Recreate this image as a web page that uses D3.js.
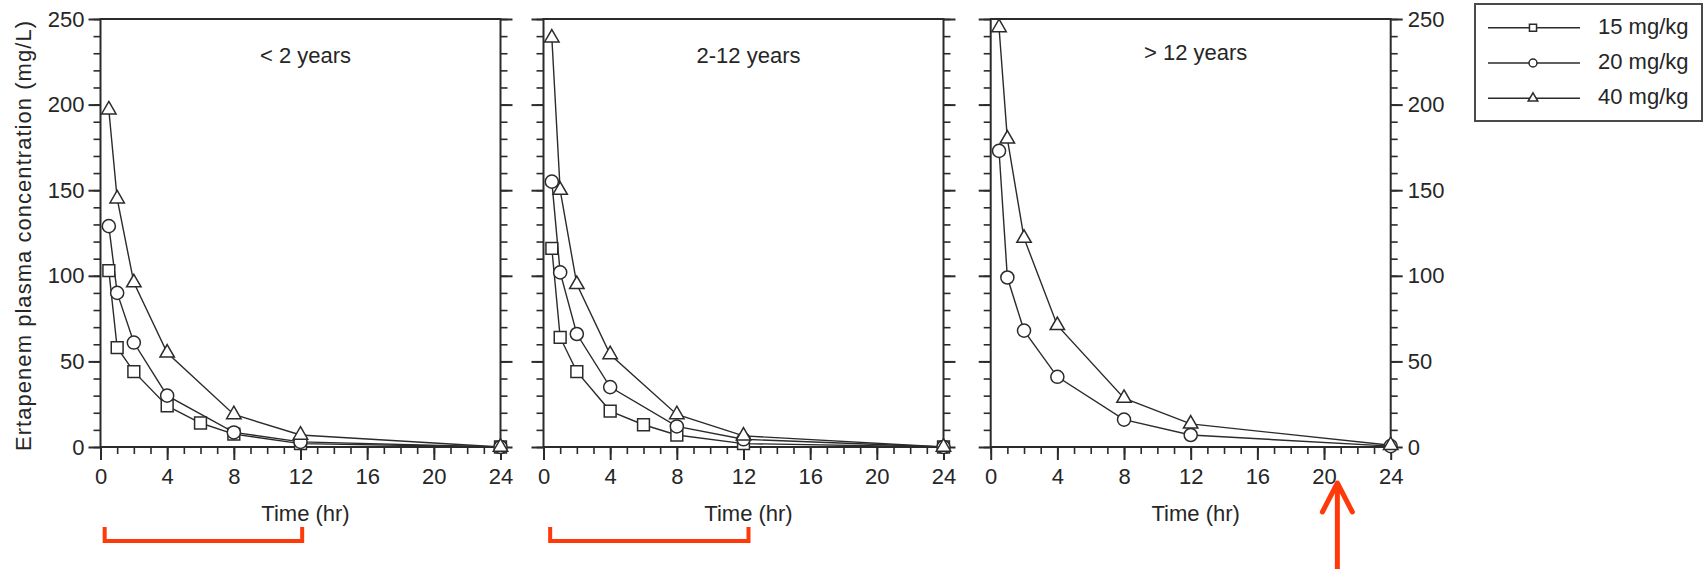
<!DOCTYPE html>
<html>
<head>
<meta charset="utf-8">
<script src="https://cdnjs.cloudflare.com/ajax/libs/d3/7.8.5/d3.min.js"></script>
<style>
    body { margin: 0; background: #fff; }
    text { font-family: "Liberation Sans", Arial, sans-serif; fill: #262626; }
</style>
</head>
<body>
<div id="chart"></div>
<script>
// Chart data
var panelTitles = ["< 2 years", "2-12 years", "> 12 years"];
var doseLabels = ["15 mg/kg", "20 mg/kg", "40 mg/kg"];
var xTicks = [0, 4, 8, 12, 16, 20, 24];
var yTicks = [0, 50, 100, 150, 200, 250];

var timesSquare = [0.5, 1, 2, 4, 6, 8, 12, 24];
var times = [0.5, 1, 2, 4, 8, 12, 24];

// < 2 years
var under2Dose15 = [103, 58, 44, 24, 14, 7.5, 2, 0];
var under2Dose20 = [129, 90, 61, 30, 8.5, 3, 0];
var under2Dose40 = [197, 145, 96, 55, 19, 7, 0];

// 2-12 years
var midDose15 = [116, 64, 44, 21, 13, 7, 2, 0];
var midDose20 = [155, 102, 66, 35, 12, 4.5, 0];
var midDose40 = [239, 150, 95, 54, 19, 6.5, 0];

// > 12 years (no 15 mg/kg group)
var over12Dose20 = [173, 99, 68, 41, 16, 7, 0.5];
var over12Dose40 = [245, 180, 122, 71, 28.5, 13.5, 1];

// red annotations, in hours
var bracketRanges = [[0.25, 12.1], [0.4, 12.3]];
var arrowTime = 20.8;

function makeChart() {

    var svgWidth = 1704;
    var svgHeight = 569;

    var plotTop = 19;
    var plotBottom = 447;
    var panelLeft = [100.5, 543.5, 990.7];
    var panelWidth = 400;
    var ink = "#2b2b2b";

    var svg = d3.select("#chart")
        .append("svg")
        .attr("width", svgWidth)
        .attr("height", svgHeight);

    // panel series built from the arrays above
    var panels = [
        [
            { dose: 0, t: timesSquare, v: under2Dose15 },
            { dose: 1, t: times, v: under2Dose20 },
            { dose: 2, t: times, v: under2Dose40 }
        ],
        [
            { dose: 0, t: timesSquare, v: midDose15 },
            { dose: 1, t: times, v: midDose20 },
            { dose: 2, t: times, v: midDose40 }
        ],
        [
            { dose: 1, t: times, v: over12Dose20 },
            { dose: 2, t: times, v: over12Dose40 }
        ]
    ];

    var symbols = [d3.symbolSquare, d3.symbolCircle, d3.symbolTriangle];
    var symbolSizes = [140, 135, 90];
    var legendSizes = [50, 50, 40];

    var yScale = d3.scaleLinear()
        .domain([0, 250])
        .range([plotBottom, plotTop]);

    function styleAxis(sel, width) {
        sel.select(".domain").remove();
        sel.selectAll(".tick line")
            .attr("stroke", ink)
            .attr("stroke-width", width);
        sel.selectAll(".tick text")
            .attr("font-size", "22px")
            .attr("fill", ink);
    }

    panels.forEach(function (series, i) {

        var xScale = d3.scaleLinear()
            .domain([0, 24])
            .range([panelLeft[i], panelLeft[i] + panelWidth]);

        var chartGroup = svg.append("g");

        // Step 1: y axes, left and right, minor + major ticks
        // ==============================
        chartGroup.append("g")
            .attr("transform", `translate(${panelLeft[i]}, 0)`)
            .call(d3.axisLeft(yScale).tickValues(d3.range(0, 251, 10)).tickSize(7).tickFormat(""))
            .call(styleAxis, 1.6);

        var leftMajor = d3.axisLeft(yScale).tickValues(yTicks).tickSize(12).tickPadding(4);
        if (i !== 0) leftMajor.tickFormat("");
        chartGroup.append("g")
            .attr("transform", `translate(${panelLeft[i]}, 0)`)
            .call(leftMajor)
            .call(styleAxis, 2);

        chartGroup.append("g")
            .attr("transform", `translate(${panelLeft[i] + panelWidth}, 0)`)
            .call(d3.axisRight(yScale).tickValues(d3.range(0, 251, 10)).tickSize(7).tickFormat(""))
            .call(styleAxis, 1.6);

        var rightMajor = d3.axisRight(yScale).tickValues(yTicks).tickSize(12).tickPadding(5);
        if (i !== 2) rightMajor.tickFormat("");
        chartGroup.append("g")
            .attr("transform", `translate(${panelLeft[i] + panelWidth}, 0)`)
            .call(rightMajor)
            .call(styleAxis, 2);

        // Step 2: x axis
        // ==============================
        chartGroup.append("g")
            .attr("transform", `translate(0, ${plotBottom})`)
            .call(d3.axisBottom(xScale).tickValues(d3.range(0, 25, 1)).tickSize(7).tickFormat(""))
            .call(styleAxis, 1.6);

        chartGroup.append("g")
            .attr("transform", `translate(0, ${plotBottom})`)
            .call(d3.axisBottom(xScale).tickValues(xTicks).tickSize(13).tickPadding(8))
            .call(styleAxis, 2);

        // frame
        chartGroup.append("rect")
            .attr("x", xScale(0))
            .attr("y", yScale(250))
            .attr("width", xScale(24) - xScale(0))
            .attr("height", yScale(0) - yScale(250))
            .attr("fill", "none")
            .attr("stroke", ink)
            .attr("stroke-width", 2);

        // Step 3: lines then markers
        // ==============================
        var line = d3.line()
            .x(d => xScale(d[0]))
            .y(d => yScale(d[1]));

        series.forEach(function (s) {
            chartGroup.append("path")
                .datum(d3.zip(s.t, s.v))
                .attr("d", line)
                .attr("fill", "none")
                .attr("stroke", ink)
                .attr("stroke-width", 1.4);
        });

        series.forEach(function (s) {
            chartGroup.selectAll(null)
                .data(d3.zip(s.t, s.v))
                .enter()
                .append("path")
                .attr("d", d3.symbol().type(symbols[s.dose]).size(symbolSizes[s.dose]))
                .attr("transform", d => `translate(${xScale(d[0])}, ${yScale(d[1])})`)
                .attr("fill", "white")
                .attr("stroke", ink)
                .attr("stroke-width", 1.5);
        });

        // Step 4: titles
        // ==============================
        chartGroup.append("text")
            .attr("x", xScale(12) + 5)
            .attr("y", i === 2 ? 60 : 63)
            .attr("text-anchor", "middle")
            .attr("font-size", "22px")
            .text(panelTitles[i]);

        chartGroup.append("text")
            .attr("x", xScale(12) + 5)
            .attr("y", 521)
            .attr("text-anchor", "middle")
            .attr("font-size", "22px")
            .text("Time (hr)");

        // red bracket under the first two panels
        if (i < bracketRanges.length) {
            var b = bracketRanges[i];
            chartGroup.append("path")
                .attr("d", `M${xScale(b[0])},527 V541 H${xScale(b[1])} V527`)
                .attr("fill", "none")
                .attr("stroke", "#ff3a0a")
                .attr("stroke-width", 4);
        }

        // red arrow in the last panel
        if (i === 2) {
            var ax = xScale(arrowTime);
            chartGroup.append("line")
                .attr("x1", ax).attr("x2", ax)
                .attr("y1", 484).attr("y2", svgHeight)
                .attr("stroke", "#ff3a0a")
                .attr("stroke-width", 5);
            chartGroup.append("path")
                .attr("d", `M${ax - 15},512 L${ax},483 L${ax + 15},512`)
                .attr("fill", "none")
                .attr("stroke", "#ff3a0a")
                .attr("stroke-width", 5)
                .attr("stroke-linecap", "round")
                .attr("stroke-linejoin", "round");
        }
    });

    // y axis label
    svg.append("text")
        .attr("transform", "rotate(-90)")
        .attr("x", -236)
        .attr("y", 31)
        .attr("text-anchor", "middle")
        .attr("font-size", "22px")
        .attr("textLength", 430)
        .attr("lengthAdjust", "spacing")
        .text("Ertapenem plasma concentration (mg/L)");

    // Step 5: legend
    // ==============================
    var legend = svg.append("g");

    legend.append("rect")
        .attr("x", 1475)
        .attr("y", 4)
        .attr("width", 227)
        .attr("height", 117)
        .attr("fill", "white")
        .attr("stroke", "#4a4a4a")
        .attr("stroke-width", 2);

    var legendY = d3.scalePoint()
        .domain(doseLabels)
        .range([27.7, 98.3]);

    doseLabels.forEach(function (label, k) {
        var ly = legendY(label);
        legend.append("line")
            .attr("x1", 1488).attr("x2", 1580)
            .attr("y1", ly).attr("y2", ly)
            .attr("stroke", ink)
            .attr("stroke-width", 1.4);
        legend.append("path")
            .attr("d", d3.symbol().type(symbols[k]).size(legendSizes[k]))
            .attr("transform", `translate(1533, ${ly})`)
            .attr("fill", "white")
            .attr("stroke", ink)
            .attr("stroke-width", 1.5);
        legend.append("text")
            .attr("x", 1598)
            .attr("y", ly)
            .attr("dy", "0.28em")
            .attr("font-size", "22px")
            .text(label);
    });
}

makeChart();
</script>
</body>
</html>
